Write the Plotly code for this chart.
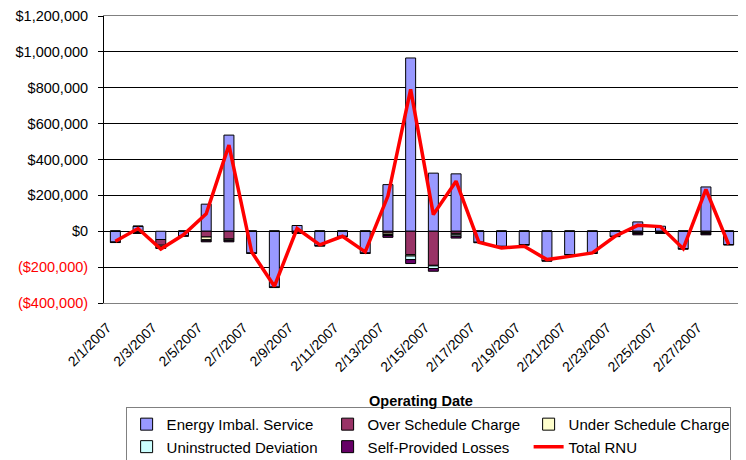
import plotly.graph_objects as go

dates = [f"2/{d}/2007" for d in range(1, 29)]

# values in dollars
energy = [-60000, 28000, -46000, -25000, 151000, 536000, -121000, -311000, 32000, -80000,
          -28000, -121000, 260000, 966000, 324000, 320000, -61000, -84000, -74000, -164000,
          -130000, -121000, -28000, 52000, 28000, -97000, 247000, -74000]
over_sched = [0, -6000, -32000, 0, -32000, -43000, 0, 0, -6000, 0,
              0, 0, -10000, -130000, -190000, -12000, 0, 0, 0, 0,
              0, 0, 0, -6000, -4000, 0, -6000, 0]
under_sched = [0, -3000, -8000, 0, -15000, -6000, 0, 0, -3000, 0,
               0, 0, -8000, -8000, -3000, -8000, 0, 0, 0, 0,
               0, 0, 0, -3000, -3000, 0, -4000, 0]
uninstructed = [0, 0, -4000, 0, -6000, -4000, 0, 0, 0, 0,
                0, 0, -6000, -20000, -15000, -8000, 0, 0, 0, 0,
                0, 0, 0, -3000, -2000, 0, -4000, 0]
self_provided = [-3000, -3000, -6000, -3000, -6000, -6000, -3000, -3000, -3000, -3000,
                 -2000, -3000, -10000, -22000, -15000, -10000, -3000, -3000, -4000, -3000,
                 -3000, -3000, -2000, -8000, -3000, -3000, -6000, -3000]
total_rnu = [-56000, 15000, -99000, -20000, 97000, 480000, -115000, -307000, 15000, -76000,
             -28000, -115000, 196000, 791000, 93000, 279000, -61000, -93000, -84000, -158000,
             -140000, -121000, -28000, 33000, 26000, -97000, 233000, -74000]

y_ticks = [-400000, -200000, 0, 200000, 400000, 600000, 800000, 1000000, 1200000]


def money(v):
    if v < 0:
        return f"<span style='color:#FF0000'>(${-v:,})</span>"
    return f"${v:,}"


fig = go.Figure()
series = [
    ("Energy Imbal. Service", energy, "#9999FF"),
    ("Over Schedule Charge", over_sched, "#993366"),
    ("Under Schedule Charge", under_sched, "#FFFFCC"),
    ("Uninstructed Deviation", uninstructed, "#CCFFFF"),
    ("Self-Provided Losses", self_provided, "#660066"),
]
for name, vals, color in series:
    fig.add_trace(go.Bar(
        x=list(range(len(dates))), y=vals, name=name,
        marker=dict(color=color, line=dict(color="black", width=1)),
    ))

fig.add_trace(go.Scatter(
    x=list(range(len(dates))), y=total_rnu, name="Total RNU", mode="lines",
    line=dict(color="#FF0000", width=3.5),
))

# page body adds an 8px offset, so the figure is 8px smaller than the window
fig.update_layout(
    width=738, height=452,
    margin=dict(l=96, r=6, t=8, b=157, autoexpand=False),
    barmode="relative", bargap=0.56,
    plot_bgcolor="white", paper_bgcolor="white",
    font=dict(family="Liberation Sans, Arial", size=14, color="black"),
    showlegend=True,
    legend=dict(
        orientation="h", x=0.034, xanchor="left", y=-0.362, yanchor="top",
        traceorder="normal", entrywidth=156, entrywidthmode="pixels",
        bordercolor="#808080", borderwidth=1, font=dict(size=15),
        itemwidth=30, tracegroupgap=0,
    ),
    annotations=[dict(
        text="<b>Operating Date</b>", x=0.498, y=-0.342, xref="paper", yref="paper",
        yanchor="middle", showarrow=False, font=dict(size=14.5),
    )],
)

fig.update_xaxes(
    range=[-0.5, len(dates) - 0.5],
    tickvals=list(range(0, len(dates), 2)), ticktext=dates[::2],
    tickangle=-45, tickfont=dict(size=14), ticks="", showgrid=False,
    showline=True, linecolor="#808080", linewidth=1, mirror=True,
    zeroline=False, automargin=False, ticklabelstandoff=10, ticklabelshift=-8,
)
fig.update_yaxes(
    range=[-400000, 1200000],
    tickvals=y_ticks, ticktext=[money(v) for v in y_ticks],
    tickfont=dict(size=14.5), ticklabeloverflow="allow", ticklabelstandoff=7,
    ticks="outside", ticklen=5, tickcolor="black",
    showgrid=True, gridcolor="black", gridwidth=1,
    zeroline=True, zerolinecolor="black", zerolinewidth=1,
    showline=True, linecolor="black", linewidth=1, automargin=False,
)

fig.write_html("out.html")
